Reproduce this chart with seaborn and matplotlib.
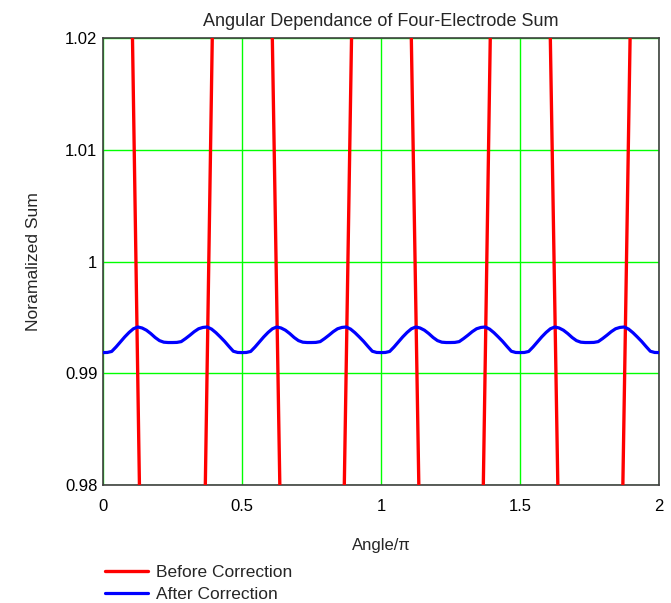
import matplotlib
matplotlib.use("Agg")
import matplotlib.pyplot as plt
import seaborn as sns
import pandas as pd

# ---- data ----
blue_angle = [i / 64 for i in range(129)]
blue_sum = [
    # 0 .. 0.5
    0.99185, 0.99186, 0.99195, 0.99235, 0.99280, 0.99325, 0.99365, 0.99398,
    0.99414, 0.99405, 0.99385, 0.99355, 0.99320, 0.99292, 0.99278, 0.99275,
    0.99275, 0.99276, 0.99283, 0.99310, 0.99340, 0.99372, 0.99398, 0.99410,
    0.99414, 0.99395, 0.99363, 0.99325, 0.99285, 0.99240, 0.99197, 0.99186,
    # 0.5 .. 1.0
    0.99185, 0.99186, 0.99195, 0.99235, 0.99280, 0.99325, 0.99365, 0.99398,
    0.99414, 0.99405, 0.99385, 0.99355, 0.99320, 0.99292, 0.99278, 0.99275,
    0.99275, 0.99276, 0.99283, 0.99310, 0.99340, 0.99372, 0.99398, 0.99410,
    0.99414, 0.99395, 0.99363, 0.99325, 0.99285, 0.99240, 0.99197, 0.99186,
    # 1.0 .. 1.5
    0.99185, 0.99186, 0.99195, 0.99235, 0.99280, 0.99325, 0.99365, 0.99398,
    0.99414, 0.99405, 0.99385, 0.99355, 0.99320, 0.99292, 0.99278, 0.99275,
    0.99275, 0.99276, 0.99283, 0.99310, 0.99340, 0.99372, 0.99398, 0.99410,
    0.99414, 0.99395, 0.99363, 0.99325, 0.99285, 0.99240, 0.99197, 0.99186,
    # 1.5 .. 2.0
    0.99185, 0.99186, 0.99195, 0.99235, 0.99280, 0.99325, 0.99365, 0.99398,
    0.99414, 0.99405, 0.99385, 0.99355, 0.99320, 0.99292, 0.99278, 0.99275,
    0.99275, 0.99276, 0.99283, 0.99310, 0.99340, 0.99372, 0.99398, 0.99410,
    0.99414, 0.99395, 0.99363, 0.99325, 0.99285, 0.99240, 0.99197, 0.99186,
    0.99185,
]

red_angle = [0.0, 0.0998, 0.1373, 0.3618, 0.3993, 0.6023, 0.6428, 0.8615,
             0.9005, 1.1023, 1.1428, 1.3618, 1.3993, 1.6023, 1.6428, 1.8635,
             1.9025, 2.0]
red_sum = [1.03, 1.03, 0.97, 0.97, 1.03, 1.03, 0.97, 0.97,
           1.03, 1.03, 0.97, 0.97, 1.03, 1.03, 0.97, 0.97,
           1.03, 1.03]

series_names = ["Before Correction", "After Correction"]
x_ticks = [0, 0.5, 1, 1.5, 2]
x_tick_labels = ["0", "0.5", "1", "1.5", "2"]
y_ticks = [0.98, 0.99, 1.0, 1.01, 1.02]
y_tick_labels = ["0.98", "0.99", "1", "1.01", "1.02"]

red_df = pd.DataFrame({"angle": red_angle, "sum": red_sum, "series": series_names[0]})
blue_df = pd.DataFrame({"angle": blue_angle, "sum": blue_sum, "series": series_names[1]})

# ---- style ----
sns.set_style("white")
plt.rcParams["font.family"] = ["Liberation Sans", "DejaVu Sans"]
FS = 12

fig = plt.figure(figsize=(6.71, 6.03), dpi=100)
ax = fig.add_axes([103 / 671, 1 - 485 / 603, 556 / 671, 447 / 603])

sns.lineplot(data=red_df, x="angle", y="sum", ax=ax, color="#ff0000", lw=2.4,
             sort=False, estimator=None, label=series_names[0], zorder=3)
sns.lineplot(data=blue_df, x="angle", y="sum", ax=ax, color="#0000ff", lw=2.3,
             sort=False, estimator=None, label=series_names[1], zorder=4)

ax.set_xlim(0, 2)
ax.set_ylim(0.98, 1.02)
ax.set_xticks(x_ticks)
ax.set_xticklabels(x_tick_labels)
ax.set_yticks(y_ticks)
ax.set_yticklabels(y_tick_labels)
ax.tick_params(axis="both", length=0, labelsize=FS, colors="#000000")
ax.tick_params(axis="x", pad=10)
ax.tick_params(axis="y", pad=4)
ax.grid(True, color="#00ff00", lw=1.0, zorder=1)
ax.set_axisbelow(True)
for s in ax.spines.values():
    s.set_color("#404040")
    s.set_linewidth(1.2)
    s.set_visible(True)

ax.set_xlabel("Angle/\u03c0", fontsize=FS)
ax.xaxis.set_label_coords(0.5, -0.118)
ax.set_ylabel("Noramalized Sum", fontsize=12.6)
ax.yaxis.set_label_coords(-0.112, 0.5)
ax.set_title("Angular Dependance of Four-Electrode Sum", fontsize=13, pad=9)

ax.get_legend().remove()
handles, labels = ax.get_legend_handles_labels()
fig.legend(handles, labels, loc="upper left", bbox_to_anchor=(105 / 671, 1 - 565 / 603),
           frameon=False, fontsize=12.5, borderpad=0, borderaxespad=0,
           handlelength=2.5, handletextpad=0.45, labelspacing=0.38)

fig.savefig("out.png", dpi=100)
